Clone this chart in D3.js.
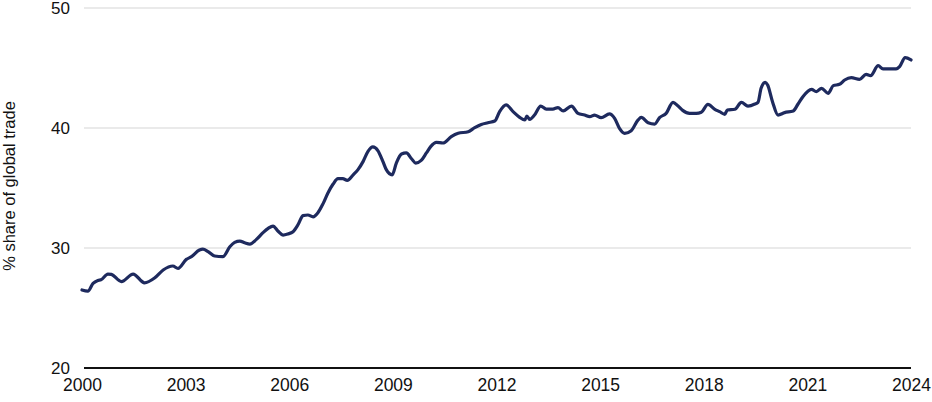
<!DOCTYPE html>
<html>
<head>
<meta charset="utf-8">
<script src="https://cdn.jsdelivr.net/npm/d3@7"></script>
<style>
  body { margin: 0; background: #fff; }
  svg text { font-family: "Liberation Sans", Arial, sans-serif; fill: #111; }
</style>
</head>
<body>
<div id="chart"></div>
<script>
// decimal year of each reading
var period = [
  2000.00, 2000.17, 2000.32, 2000.46, 2000.55, 2000.75, 2000.85, 2001.14, 2001.48, 2001.81,
  2002.10, 2002.35, 2002.63, 2002.78, 2003.02, 2003.17, 2003.40, 2003.50, 2003.65, 2003.84,
  2004.08, 2004.28, 2004.42, 2004.57, 2004.71, 2004.86, 2005.05, 2005.24, 2005.39, 2005.53,
  2005.67, 2005.82, 2005.96, 2006.11, 2006.25, 2006.40, 2006.54, 2006.69, 2006.83, 2006.98,
  2007.12, 2007.27, 2007.41, 2007.55, 2007.68, 2007.85, 2007.99, 2008.14, 2008.28, 2008.42,
  2008.57, 2008.71, 2008.81, 2008.98, 2009.10, 2009.25, 2009.39, 2009.54, 2009.66, 2009.82,
  2009.97, 2010.10, 2010.26, 2010.45, 2010.69, 2010.89, 2011.18, 2011.37, 2011.56, 2011.75,
  2011.95, 2012.09, 2012.28, 2012.48, 2012.67, 2012.82, 2012.88, 2012.96, 2013.10, 2013.28,
  2013.44, 2013.63, 2013.78, 2013.93, 2014.17, 2014.36, 2014.55, 2014.70, 2014.84, 2015.03,
  2015.27, 2015.42, 2015.56, 2015.71, 2015.90, 2016.10, 2016.19, 2016.39, 2016.58, 2016.72,
  2016.91, 2017.11, 2017.25, 2017.39, 2017.59, 2017.78, 2017.93, 2018.12, 2018.32, 2018.46,
  2018.61, 2018.68, 2018.90, 2019.09, 2019.28, 2019.48, 2019.57, 2019.66, 2019.78, 2019.85,
  2019.99, 2020.15, 2020.34, 2020.59, 2020.73, 2020.87, 2021.12, 2021.26, 2021.41, 2021.60,
  2021.75, 2021.93, 2022.08, 2022.27, 2022.51, 2022.70, 2022.83, 2023.05, 2023.19, 2023.38,
  2023.57, 2023.67, 2023.83, 2024.00
];
// % share of global trade
var share = [
  26.5, 26.4, 27.05, 27.3, 27.35, 27.83, 27.8, 27.2, 27.83, 27.1,
  27.5, 28.17, 28.5, 28.3, 29.05, 29.28, 29.83, 29.9, 29.7, 29.33,
  29.28, 30.1, 30.47, 30.58, 30.44, 30.33, 30.72, 31.28, 31.64, 31.83,
  31.42, 31.08, 31.17, 31.36, 31.92, 32.7, 32.75, 32.6, 32.94, 33.7,
  34.58, 35.33, 35.78, 35.78, 35.64, 36.1, 36.53, 37.22, 38.05, 38.42,
  38.1, 37.22, 36.53, 36.1, 37.08, 37.83, 37.92, 37.44, 37.08, 37.3,
  37.92, 38.47, 38.8, 38.75, 39.28, 39.56, 39.69, 40.03, 40.3, 40.44,
  40.58, 41.36, 41.92, 41.36, 40.89, 40.67, 41.0, 40.72, 41.08, 41.83,
  41.58, 41.58, 41.7, 41.42, 41.83, 41.22, 41.08, 40.94, 41.08, 40.86,
  41.17, 40.8, 39.97, 39.56, 39.78, 40.67, 40.89, 40.44, 40.33, 40.86,
  41.22, 42.14, 41.85, 41.47, 41.22, 41.22, 41.31, 41.97, 41.56, 41.36,
  41.14, 41.5, 41.56, 42.14, 41.83, 42.0, 42.14, 43.31, 43.81, 43.58,
  42.19, 41.08, 41.28, 41.42, 42.0, 42.61, 43.22, 43.03, 43.31, 42.89,
  43.53, 43.64, 44.0, 44.19, 44.06, 44.47, 44.36, 45.19, 44.92, 44.92,
  44.92, 45.11, 45.86, 45.67
];
var xTicks = [2000, 2003, 2006, 2009, 2012, 2015, 2018, 2021, 2024];
var yTicks = [20, 30, 40, 50];
var yTitle = "% share of global trade";

var width = 932, height = 402;
var margin = {top: 8, right: 21, bottom: 34, left: 82};

var svg = d3.select("#chart").append("svg")
    .attr("width", width)
    .attr("height", height);

var x = d3.scaleLinear().domain([2000, 2024]).range([margin.left, width - margin.right]);
var y = d3.scaleLinear().domain([20, 50]).range([height - margin.bottom, margin.top]);

// gridlines
svg.append("g").selectAll("line")
  .data(yTicks.filter(function(d) { return d > 20; }))
  .enter().append("line")
    .attr("x1", x(2000) + 2)
    .attr("x2", x(2024))
    .attr("y1", function(d) { return y(d); })
    .attr("y2", function(d) { return y(d); })
    .style("stroke", "#e3e3e3")
    .style("stroke-width", 1.5);

// y axis labels
var yAxis = svg.append("g")
    .attr("transform", "translate(" + (margin.left - 12) + ",0)")
    .call(d3.axisLeft(y).tickValues(yTicks).tickSize(0).tickPadding(0));
yAxis.select(".domain").remove();
yAxis.selectAll("text").style("font-size", "17px").style("fill", "#111");

// x axis
var xAxis = svg.append("g")
    .attr("transform", "translate(0," + y(20) + ")")
    .call(d3.axisBottom(x).tickValues(xTicks).tickFormat(d3.format("d")).tickSize(0).tickPadding(11));
xAxis.select(".domain").remove();
xAxis.selectAll("text").style("font-size", "17.5px").style("fill", "#111");

svg.append("line")
    .attr("x1", x(2000) + 2)
    .attr("x2", x(2024))
    .attr("y1", y(20))
    .attr("y2", y(20))
    .style("stroke", "#111")
    .style("stroke-width", 2);

svg.append("text")
    .attr("transform", "translate(15," + (y(35) - 2) + ") rotate(-90)")
    .attr("text-anchor", "middle")
    .style("font-size", "16.5px")
    .text(yTitle);

var line = d3.line()
    .x(function(d, i) { return x(period[i]); })
    .y(function(d) { return y(d); })
    .curve(d3.curveMonotoneX);

svg.append("path")
    .datum(share)
    .attr("d", line)
    .style("fill", "none")
    .style("stroke", "#1e2a5e")
    .style("stroke-width", 3.2)
    .style("stroke-linejoin", "round")
    .style("stroke-linecap", "round");
</script>
</body>
</html>
